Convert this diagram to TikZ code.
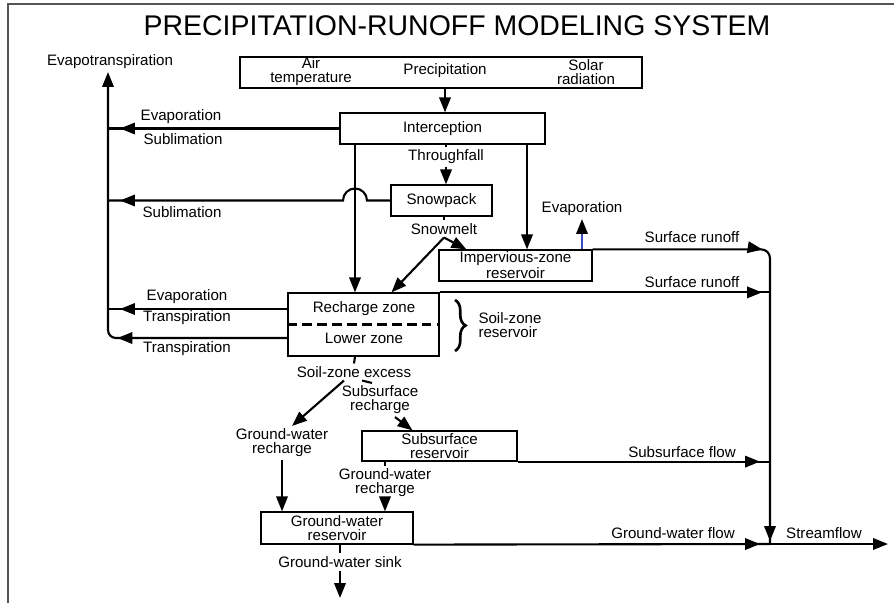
\documentclass[tikz,border=0pt]{standalone}
\usepackage{fontspec}
\setmainfont{Liberation Sans}
\usetikzlibrary{arrows.meta,calc,decorations.markings,decorations.pathreplacing}

\newdimen\px \px=0.02cm
\newcommand\lblfont{\fontsize{8.6}{8}\selectfont}
\definecolor{shaftblue}{RGB}{55,75,190}
\definecolor{framegray}{RGB}{85,85,85}

\tikzset{
  box/.style={draw, line width=0.7pt, minimum height=31\px, inner sep=0pt, align=center},
  pipe/.style={line width=1.2pt},
  flow/.style={pipe, -{Triangle[length=8.5pt,width=6.5pt]}},
  tipat/.style={postaction={decorate, decoration={markings,
      mark=at position #1 with {\arrow{Triangle[length=8.5pt,width=6.5pt]}}}}},
  curly/.style={decorate, decoration={brace, amplitude=6pt}, line width=1.5pt},
}

\begin{document}
\begin{tikzpicture}[x=0.02cm, y=-0.02cm, font=\lblfont,
    every node/.style={align=center, inner sep=1.5pt}]
  \useasboundingbox (0,0) rectangle (894,603);
  \draw[framegray, line width=1pt] (8,603) -- (8,4) -- (894,4);
  \node[font=\fontsize{16.2}{18}\selectfont] (title) at (457,26) {PRECIPITATION-RUNOFF MODELING SYSTEM};

  \node[box, minimum width=402\px] (inputs) at (441,72.5) {};
  \node[box, minimum width=205\px] (intercept) at (442.5,128.5) {Interception};
  \node[box, minimum width=101\px] (snowpack) at (441.5,200.5) {Snowpack};
  \node[box, minimum width=153\px] (imperv) at (515.5,265.5) {Impervious-zone\\reservoir};
  \node[box, minimum width=151\px, minimum height=63\px] (soil) at (363.5,324.5) {};
  \node[box, minimum width=155\px, minimum height=30\px] (subres) at (439.5,446) {Subsurface\\reservoir};
  \node[box, minimum width=152\px, minimum height=32\px] (gwres) at (337,528) {Ground-water\\reservoir};

  \node (air) at (311,72) {Air\\temperature};
  \node (prec) at (445,71) {Precipitation};
  \node (solar) at (586,72) {Solar\\radiation};
  \node (recharge) at (364,309) {Recharge zone};
  \node (lower) at (364,338) {Lower zone};
  \draw[line width=1.2pt, dash pattern=on 5.5pt off 3pt] (soil.west) -- (soil.east);

  \node (evt) at (110,62) {Evapotranspiration};
  \node (evap1) at (181,117) {Evaporation};
  \node (subl1) at (183,139) {Sublimation};
  \node (thru) at (446,157) {Throughfall};
  \node (subl2) at (182,212) {Sublimation};
  \node (snowmelt) at (444,229) {Snowmelt};
  \node (evap3) at (582,209) {Evaporation};
  \node (sr1) at (692,237) {Surface runoff};
  \node (sr2) at (692,282) {Surface runoff};
  \node[align=left] (szr) at (510,325) {Soil-zone\\reservoir};
  \node (evap2) at (187,297) {Evaporation};
  \node (tr1) at (187,318) {Transpiration};
  \node (tr2) at (187,349) {Transpiration};
  \node (sze) at (354,372) {Soil-zone excess};
  \node (ssr) at (380,400) {Subsurface\\recharge};
  \node (gwr1) at (282,443) {Ground-water\\recharge};
  \node (gwr2) at (385,483) {Ground-water\\recharge};
  \node (ssf) at (682,452) {Subsurface flow};
  \node (gwf) at (673,533) {Ground-water flow};
  \node (sf) at (824,533) {Streamflow};
  \node (gws) at (340,562) {Ground-water sink};

  \coordinate (trunk) at (108,0);
  \coordinate (colA) at (355,0);
  \coordinate (colB) at (527,0);
  \coordinate (stream) at (770,0);
  \coordinate (sjunc) at (770,544);
  \coordinate (outlet) at (888,544);
  \coordinate (sink) at (340,598);

  \draw[flow] (prec |- inputs.south) -- (prec |- intercept.north);
  \draw[pipe, tipat=-0.24cm] (intercept.west) -- (intercept.west -| trunk);
  \draw[flow] (intercept.south -| colA) -- (soil.north -| colA);
  \draw[pipe] (intercept.south -| thru) -- (thru.north);
  \draw[flow] (thru.south) -- (snowpack.north -| thru);
  \draw[flow] (intercept.south -| colB) -- (imperv.north -| colB);
  \draw[pipe, tipat=-0.24cm] (snowpack.west) -- ($(snowpack.west -| colA)+(12,0)$)
    arc[start angle=0, end angle=180, radius=12\px] -- (snowpack.west -| trunk);
  \draw[pipe] (snowpack.south -| snowmelt) -- (snowmelt.north);
  \draw[flow] (snowmelt.south) -- ([xshift=28\px]soil.north);
  \draw[flow] (snowmelt.south) -- ([xshift=28\px]imperv.north west);
  \draw[pipe, shaftblue, -{Triangle[length=8.5pt,width=6.5pt,color=black]}] (imperv.north -| evap3) -- (evap3.south);
  \draw[pipe, rounded corners=5pt, tipat=3.4cm, tipat=-0.06cm] (imperv.north east) -- (imperv.north east -| stream) -- (sjunc);
  \draw[pipe, tipat=-0.16cm] (soil.north east) -- (soil.north east -| stream);
  \draw[pipe, tipat=-0.24cm] (soil.west |- recharge) -- (trunk |- recharge);
  \draw[flow, rounded corners=4.5pt, tipat=3.4cm] (soil.west |- lower) -- (trunk |- lower) -- (trunk |- evt.south);
  \draw[curly] (455,300) -- (455,351);

  \draw[pipe] (soil.south -| colA) -- (sze.north);
  \draw[flow] ([xshift=-10\px]sze.south) -- ([xshift=10\px]gwr1.north);
  \draw[pipe] ([xshift=8\px]sze.south) -- ([xshift=-8\px]ssr.north);
  \draw[flow] ([xshift=15\px]ssr.south) -- ([xshift=-27\px]subres.north);
  \draw[flow] (gwr1.south) -- (gwr1.south |- gwres.north);
  \draw[pipe] (subres.south -| gwr2) -- (gwr2.north);
  \draw[flow] (gwr2.south) -- (gwr2.south |- gwres.north);
  \draw[pipe, tipat=-0.2cm] (subres.south east) -- (subres.south east -| stream);
  \draw[pipe, tipat=-0.2cm] (gwres.south east) -- (sjunc);
  \draw[flow] (sjunc) -- (outlet);
  \draw[pipe] (gwres.south -| gws) -- (gws.north);
  \draw[flow] (gws.south) -- (sink);
\end{tikzpicture}
\end{document}
